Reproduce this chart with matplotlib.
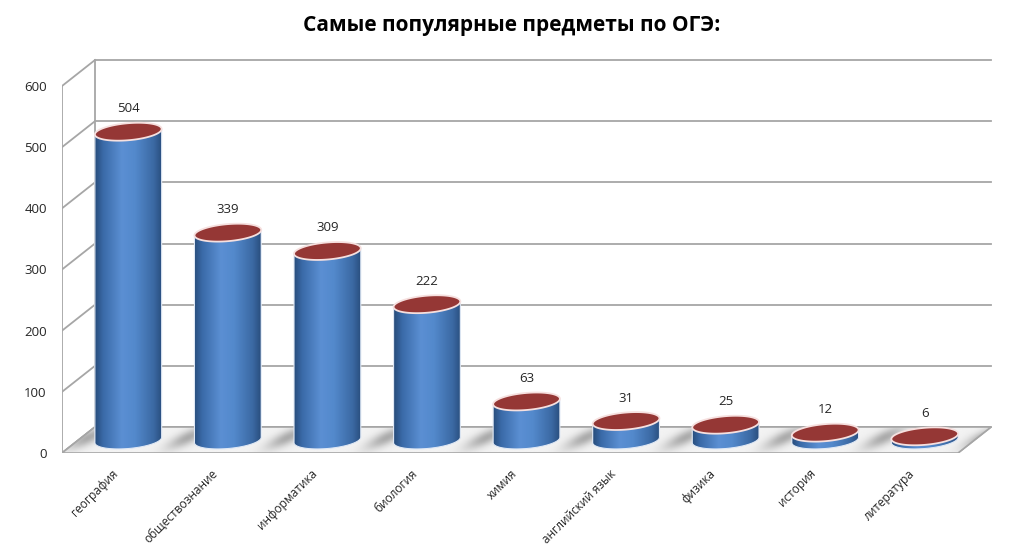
import numpy as np
import matplotlib
matplotlib.use("Agg")
import matplotlib.pyplot as plt
from matplotlib.patches import Polygon
from matplotlib.colors import LinearSegmentedColormap

plt.rcParams['font.family'] = ['Open Sans', 'DejaVu Sans']

# data
subjects = ['география', 'обществознание', 'информатика', 'биология', 'химия',
            'английский язык', 'физика', 'история', 'литература']
counts = [504, 339, 309, 222, 63, 31, 25, 12, 6]
yticks = [0, 100, 200, 300, 400, 500, 600]

# pixel geometry of the fake 3d box
W, H = 1024, 553
px_x = 99.56           # px per category
px_y = 367 / 600       # px per unit
dx = 33 / px_x         # depth offset in data units
dy = 26 / px_y
ax_l, ax_b, ax_r, ax_t = 62, 100, 1005, 520

fig = plt.figure(figsize=(W / 100, H / 100), dpi=100)
ax = fig.add_axes([ax_l / W, ax_b / H, (ax_r - ax_l) / W, (ax_t - ax_b) / H])
xlim = (-0.5, -0.5 + (ax_r - ax_l) / px_x)
ylim = (0, (ax_t - ax_b) / px_y)

grid_c = '#a6a6a6'
n = len(subjects)
x0, x1 = -0.5, n - 0.5

# back wall gridlines + left wall
for v in yticks:
    ax.plot([x0 + dx, x1 + dx], [v + dy, v + dy], color=grid_c, lw=1.3, zorder=1)
    ax.plot([x0, x0 + dx], [v, v + dy], color=grid_c, lw=1.3, zorder=1)
ax.plot([x0, x0], [0, 600], color=grid_c, lw=1.3, zorder=1)
ax.plot([x0 + dx, x0 + dx], [dy, 600 + dy], color=grid_c, lw=1.3, zorder=1)

# floor with soft shadows between the cylinders
floor = Polygon([(x0, 0), (x1, 0), (x1 + dx, dy), (x0 + dx, dy)], closed=True,
                facecolor='#eeeeee', edgecolor=grid_c, lw=1.2, zorder=2)
ax.add_patch(floor)
gx, gy = np.meshgrid(np.linspace(x0, x1 + dx, 600), np.linspace(0, dy, 40))
tex = np.full(gx.shape, 0.95)
for i in range(n + 1):
    sx = gx - (i - 0.45 + 0.35 * gy / dy)
    tex -= 0.28 * np.exp(-(sx / 0.13) ** 2) * np.exp(-((gy - dy * 0.6) / (dy * 0.45)) ** 2)
im = ax.imshow(tex, cmap='gray', vmin=0, vmax=1, aspect='auto', origin='lower',
               extent=[x0, x1 + dx, 0, dy], zorder=2.2, interpolation='bilinear')
im.set_clip_path(floor)
ax.add_patch(Polygon([(x0, 0), (x1, 0), (x1 + dx, dy), (x0 + dx, dy)], closed=True,
                     facecolor='none', edgecolor=grid_c, lw=1.2, zorder=2.3))

# cylinders
body_cmap = LinearSegmentedColormap.from_list(
    'cyl', [(0, '#284d7c'), (0.12, '#3a6aa8'), (0.4, '#5b8fd3'),
            (0.6, '#5389cc'), (0.88, '#3b69a3'), (1, '#2a4f7f')])
a, b = 33.5, 8.5                 # ellipse semi axes in px
th = np.radians(5)
base = dy / 2


def ell(t):
    ex = a * np.cos(t) * np.cos(th) - b * np.sin(t) * np.sin(th)
    ey = a * np.cos(t) * np.sin(th) + b * np.sin(t) * np.cos(th)
    return ex / px_x, ey / px_y


t_r = np.arctan2(-b * np.sin(th), a * np.cos(th))
t_l = t_r + np.pi
tt = np.linspace(0, 2 * np.pi, 120)
tb = np.linspace(t_l, t_r + 2 * np.pi, 80)
xl, yl = ell(t_l)
xr, yr = ell(t_r)

for i, v in enumerate(counts):
    cx = i + dx / 2
    top = base + v
    bx, by = ell(tb)
    verts = [(cx + xl, top + yl)] + list(zip(cx + bx, base + by)) + [(cx + xr, top + yr)]
    body = Polygon(verts, closed=True, facecolor='none', edgecolor='#dfe8f5',
                   lw=0.8, zorder=4)
    ax.add_patch(body)
    im = ax.imshow(np.linspace(0, 1, 128).reshape(1, -1), cmap=body_cmap, aspect='auto',
                   extent=[cx + xl, cx + xr, base - 12 / px_y, top + 12 / px_y], zorder=3.5)
    im.set_clip_path(body)
    ex, ey = ell(tt)
    ax.add_patch(Polygon(list(zip(cx + ex, top + ey)), closed=True, facecolor='#953735',
                         edgecolor='#f6e0df', lw=1.3, zorder=5))
    ax.text(cx, top + 23 / px_y, str(v), ha='center', va='center',
            fontsize=9.5, color='#262626', zorder=6)

ax.set_xlim(*xlim)
ax.set_ylim(*ylim)
for s in ax.spines.values():
    s.set_visible(False)
ax.set_yticks(yticks)
ax.set_yticklabels([str(v) for v in yticks], fontsize=9.5, color='#262626')
ax.tick_params(axis='y', length=0, pad=11)
ax.set_xticks(range(n))
ax.set_xticklabels(subjects, rotation=45, ha='right', rotation_mode='anchor',
                   fontsize=8.6, color='#262626')
ax.tick_params(axis='x', length=0, pad=10)

fig.text(0.5, 1 - 25 / H, 'Самые популярные предметы по ОГЭ:', ha='center', va='center',
         fontsize=15, fontweight='bold', color='black')

fig.savefig('out.png', dpi=100)
